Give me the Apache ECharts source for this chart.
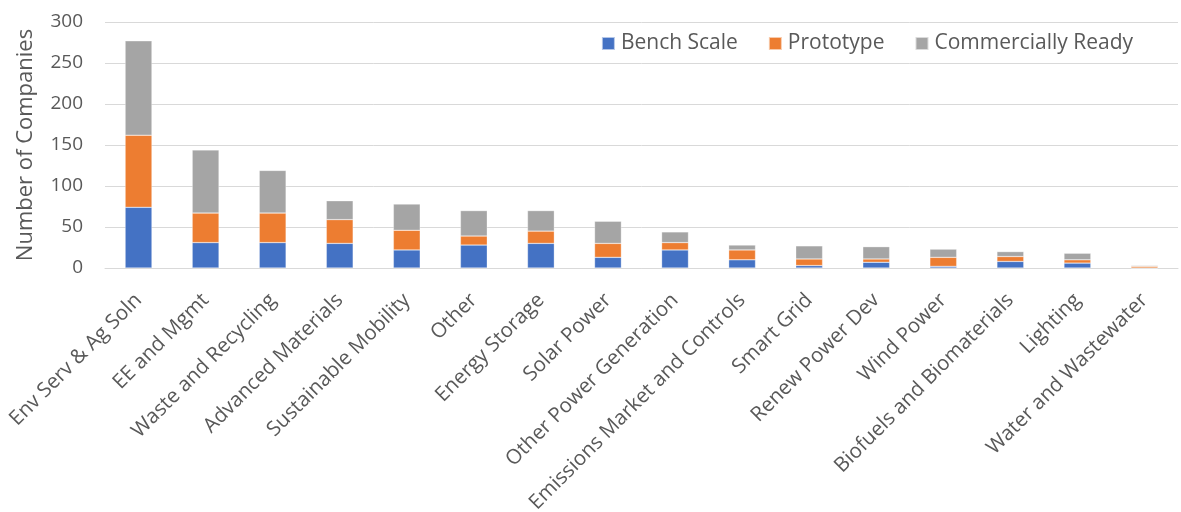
<!DOCTYPE html>
<html>
<head>
<meta charset="utf-8">
<script src="https://cdn.jsdelivr.net/npm/echarts@6/dist/echarts.min.js"></script>
<style>
  html, body { margin: 0; padding: 0; background: #fff; }
  #chart { width: 1181px; height: 512px; }
</style>
</head>
<body>
<div id="chart"></div>
<script>
// Technology sectors, ordered by total number of companies
const categories = [
  'Env Serv & Ag Soln', 'EE and Mgmt', 'Waste and Recycling', 'Advanced Materials',
  'Sustainable Mobility', 'Other', 'Energy Storage', 'Solar Power',
  'Other Power Generation', 'Emissions Market and Controls', 'Smart Grid',
  'Renew Power Dev', 'Wind Power', 'Biofuels and Biomaterials', 'Lighting',
  'Water and Wastewater'
];

// Companies per readiness stage
const benchScale = [74, 31, 31, 30, 22, 28, 30, 13, 22, 10, 3, 7, 2, 8, 6, 0];
const prototype = [88, 36, 36, 29, 24, 11, 15, 17, 9, 12, 8, 4, 11, 6, 4, 2];
const commerciallyReady = [115, 77, 52, 23, 32, 31, 25, 27, 13, 6, 16, 15, 10, 6, 8, 1];

const yTicks = { min: 0, max: 300, interval: 50 };

const FONT = '"Open Sans", sans-serif';
const TEXT = '#595959';

function stageSeries(name, data, color) {
  return {
    name: name,
    type: 'bar',
    stack: 'stage',
    data: data,
    barWidth: '40%',
    itemStyle: { color: color, borderColor: 'rgba(255,255,255,0.6)', borderWidth: 0.5 },
    emphasis: { disabled: true }
  };
}

const chart = echarts.init(document.getElementById('chart'), null, { renderer: 'canvas' });
chart.setOption({
  animation: false,
  backgroundColor: '#ffffff',
  grid: { left: 105, right: 3, top: 22, bottom: 244, containLabel: false, outerBoundsMode: 'none' },
  legend: {
    right: 43,
    top: 28,
    itemWidth: 13,
    itemHeight: 13,
    itemGap: 30,
    icon: 'rect',
    textStyle: { fontFamily: FONT, fontSize: 21, color: TEXT, padding: [0, 0, 0, 1] },
    data: ['Bench Scale', 'Prototype', 'Commercially Ready']
  },
  xAxis: {
    type: 'category',
    data: categories,
    axisLine: { lineStyle: { color: '#d9d9d9', width: 1 } },
    axisTick: { show: false },
    axisLabel: {
      interval: 0,
      rotate: 45,
      margin: 29,
      fontFamily: FONT,
      fontSize: 20.5,
      color: TEXT
    }
  },
  yAxis: {
    type: 'value',
    min: yTicks.min,
    max: yTicks.max,
    interval: yTicks.interval,
    name: 'Number of Companies',
    nameLocation: 'middle',
    nameGap: 68,
    nameRotate: 90,
    nameTextStyle: { fontFamily: FONT, fontSize: 22, color: TEXT },
    axisLine: { show: false },
    axisTick: { show: false },
    axisLabel: { fontFamily: FONT, fontSize: 19, color: TEXT, margin: 22 },
    splitLine: { lineStyle: { color: '#d9d9d9', width: 1 } }
  },
  series: [
    stageSeries('Bench Scale', benchScale, '#4472C4'),
    stageSeries('Prototype', prototype, '#ED7D31'),
    stageSeries('Commercially Ready', commerciallyReady, '#A5A5A5')
  ]
});
</script>
</body>
</html>
